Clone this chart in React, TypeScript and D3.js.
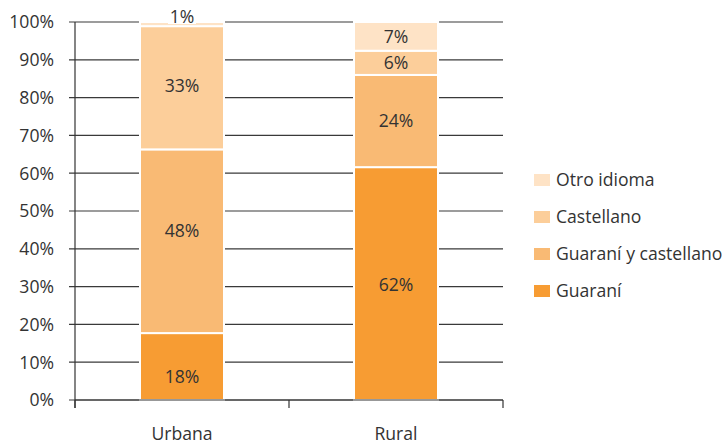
import React from "react";
import * as d3 from "d3";

const categories = ["Urbana", "Rural"];
const seriesNames = ["Guaraní", "Guaraní y castellano", "Castellano", "Otro idioma"];
const urbanaValues = [17.7, 48.6, 32.6, 1.1];
const ruralValues = [61.6, 24.4, 6.4, 7.6];
const urbanaLabels = ["18%", "48%", "33%", "1%"];
const ruralLabels = ["62%", "24%", "6%", "7%"];
const seriesColors = ["#F79C33", "#F9BA74", "#FCCE9A", "#FEE3C6"];
const yTicks = [0, 10, 20, 30, 40, 50, 60, 70, 80, 90, 100];

const W = 726, H = 444;
const FONT = "'Open Sans', 'DejaVu Sans', sans-serif";
const FS = 17.6;

export default function App() {
  const x = d3.scaleBand().domain(categories).range([75, 503]).paddingInner(0).paddingOuter(0);
  const y = d3.scaleLinear().domain([0, 100]).range([400, 22]);
  const barW = 84;
  const data = [urbanaValues, ruralValues];
  const labels = [urbanaLabels, ruralLabels];
  // label nudges (px) as placed in the original
  const nudge = [[10, -11, -2, 0], [1, 0, 0, 0]];

  const stacks = data.map((vals) => {
    let acc = 0;
    return vals.map((v) => {
      const s = { y0: acc, y1: acc + v };
      acc += v;
      return s;
    });
  });

  return (
    <svg width={W} height={H} style={{ position: "absolute", left: 0, top: 0 }}>
      <rect width={W} height={H} fill="#fff" />
      {yTicks.map((t) => (
        <g key={t}>
          <line x1={69} x2={503} y1={y(t)} y2={y(t)} stroke="#3a3a3a" strokeWidth={1.2} />
          <text x={54} y={y(t)} dy="0.36em" textAnchor="end" fontFamily={FONT} fontSize={FS} fill="#333">
            {t}%
          </text>
        </g>
      ))}
      {categories.map((c, ci) => {
        const cx = (x(c) as number) + x.bandwidth() / 2;
        return (
          <g key={c}>
            {stacks[ci].map((s, si) => {
              const top = y(s.y1);
              const bot = y(s.y0);
              return (
                <rect key={si} x={cx - barW / 2} y={top} width={barW} height={bot - top}
                  fill={seriesColors[si]} stroke="#fff" strokeWidth={2} />
              );
            })}
            {stacks[ci].map((s, si) => {
              const small = s.y1 - s.y0 < 3;
              const ly = small ? y(s.y1) - 5 : (y(s.y0) + y(s.y1)) / 2 + nudge[ci][si];
              return (
                <g key={"l" + si}>
                  {small && <rect x={cx - 14} y={ly - 10} width={28} height={17} fill="#fff" />}
                  <text x={cx} y={ly} dy="0.36em" textAnchor="middle" fontFamily={FONT} fontSize={FS} fill="#333">
                    {labels[ci][si]}
                  </text>
                </g>
              );
            })}
            <text x={cx} y={440} textAnchor="middle" fontFamily={FONT} fontSize={FS} fill="#333">{c}</text>
          </g>
        );
      })}
      <line x1={75} x2={75} y1={22} y2={408} stroke="#333" strokeWidth={1.2} />
      <line x1={75} x2={503} y1={400} y2={400} stroke="#333" strokeWidth={1.2} />
      {[75, 289, 503].map((tx) => (
        <line key={tx} x1={tx} x2={tx} y1={400} y2={408} stroke="#333" strokeWidth={1.2} />
      ))}
      {seriesNames.slice().reverse().map((n, i) => {
        const si = seriesNames.length - 1 - i;
        const ry = 180 + i * 37;
        return (
          <g key={n}>
            <rect x={534} y={ry - 6} width={16} height={12} fill={seriesColors[si]} />
            <text x={556} y={ry} dy="0.36em" fontFamily={FONT} fontSize={FS} fill="#333">{n}</text>
          </g>
        );
      })}
    </svg>
  );
}
